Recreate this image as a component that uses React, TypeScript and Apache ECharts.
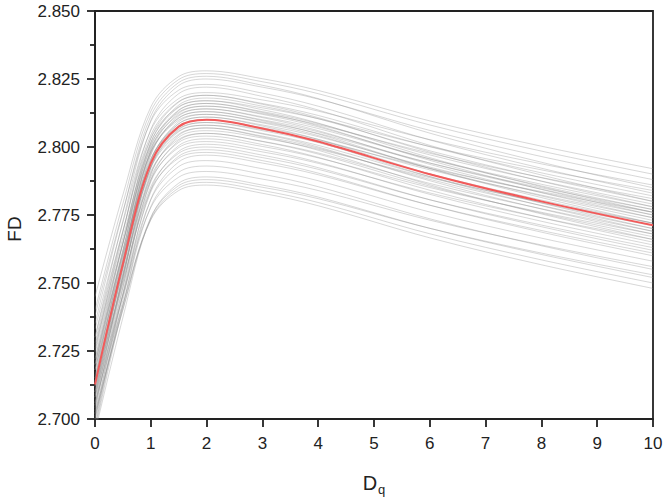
import React, { useEffect, useRef } from "react";
import * as echarts from "echarts";

const XS = [0, 0.5, 1, 1.5, 2, 3, 4, 6, 8, 10];

const MEAN = [2.7127, 2.757, 2.794, 2.8075, 2.81, 2.8068, 2.802, 2.79, 2.78, 2.7712];

const SAMPLES: number[][] = [
  [2.745, 2.7824, 2.8147, 2.8259, 2.828, 2.8251, 2.8208, 2.8096, 2.8003, 2.792],
  [2.74, 2.7792, 2.8131, 2.8248, 2.827, 2.824, 2.8196, 2.8081, 2.7985, 2.79],
  [2.735, 2.776, 2.8114, 2.8237, 2.826, 2.8227, 2.8178, 2.8051, 2.7944, 2.785],
  [2.73, 2.7728, 2.8098, 2.8226, 2.825, 2.822, 2.8176, 2.8061, 2.7965, 2.788],
  [2.738, 2.7763, 2.8094, 2.8209, 2.823, 2.8198, 2.815, 2.8026, 2.7922, 2.783],
  [2.725, 2.7687, 2.8065, 2.8196, 2.822, 2.8186, 2.8136, 2.8006, 2.7897, 2.78],
  [2.733, 2.7722, 2.8061, 2.8178, 2.82, 2.8173, 2.8132, 2.8027, 2.7938, 2.786],
  [2.72, 2.7646, 2.8032, 2.8165, 2.819, 2.816, 2.8116, 2.8001, 2.7905, 2.782],
  [2.728, 2.769, 2.8044, 2.8167, 2.819, 2.8157, 2.8108, 2.7981, 2.7874, 2.778],
  [2.715, 2.7614, 2.8015, 2.8154, 2.818, 2.815, 2.8104, 2.7986, 2.7887, 2.78],
  [2.73, 2.7692, 2.8031, 2.8148, 2.817, 2.8137, 2.8088, 2.7961, 2.7854, 2.776],
  [2.722, 2.7648, 2.8018, 2.8146, 2.817, 2.8144, 2.8104, 2.8002, 2.7916, 2.784],
  [2.718, 2.7621, 2.8003, 2.8136, 2.816, 2.813, 2.8086, 2.7971, 2.7875, 2.779],
  [2.71, 2.7577, 2.799, 2.8134, 2.816, 2.8127, 2.8078, 2.7951, 2.7844, 2.775],
  [2.727, 2.7666, 2.8009, 2.8128, 2.815, 2.812, 2.8074, 2.7956, 2.7857, 2.777],
  [2.712, 2.7584, 2.7985, 2.8124, 2.815, 2.8123, 2.8082, 2.7977, 2.7888, 2.781],
  [2.724, 2.7645, 2.7996, 2.8118, 2.814, 2.8108, 2.806, 2.7936, 2.7832, 2.774],
  [2.708, 2.7557, 2.797, 2.8114, 2.814, 2.8111, 2.8068, 2.7956, 2.7863, 2.778],
  [2.72, 2.7619, 2.7981, 2.8107, 2.813, 2.81, 2.8056, 2.7941, 2.7845, 2.776],
  [2.716, 2.7597, 2.7975, 2.8106, 2.813, 2.8097, 2.8048, 2.7921, 2.7814, 2.772],
  [2.705, 2.7532, 2.7949, 2.8093, 2.812, 2.8092, 2.805, 2.7941, 2.785, 2.777],
  [2.726, 2.7647, 2.7982, 2.8099, 2.812, 2.8089, 2.8042, 2.7921, 2.782, 2.773],
  [2.714, 2.7577, 2.7955, 2.8086, 2.811, 2.8081, 2.8038, 2.7926, 2.7833, 2.775],
  [2.71, 2.7555, 2.7948, 2.8085, 2.811, 2.8077, 2.8028, 2.7901, 2.7794, 2.77],
  [2.72, 2.7605, 2.7956, 2.8078, 2.81, 2.8071, 2.8028, 2.7916, 2.7823, 2.774],
  [2.703, 2.7512, 2.7929, 2.8073, 2.81, 2.8067, 2.8018, 2.7891, 2.7784, 2.769],
  [2.718, 2.759, 2.7944, 2.8067, 2.809, 2.806, 2.8016, 2.7901, 2.7805, 2.772],
  [2.706, 2.7524, 2.7925, 2.8064, 2.809, 2.8064, 2.8024, 2.7922, 2.7836, 2.776],
  [2.712, 2.7552, 2.7926, 2.8056, 2.808, 2.8048, 2.8, 2.7876, 2.7772, 2.768],
  [2.722, 2.7607, 2.7942, 2.8059, 2.808, 2.805, 2.8006, 2.7891, 2.7795, 2.771],
  [2.7, 2.7482, 2.7899, 2.8043, 2.807, 2.804, 2.7996, 2.7881, 2.7785, 2.77],
  [2.715, 2.7564, 2.7923, 2.8047, 2.807, 2.8037, 2.7988, 2.7861, 2.7754, 2.766],
  [2.708, 2.7521, 2.7903, 2.8036, 2.806, 2.8033, 2.7992, 2.7887, 2.7798, 2.772],
  [2.718, 2.7572, 2.7911, 2.8028, 2.805, 2.802, 2.7974, 2.7856, 2.7757, 2.767],
  [2.698, 2.7462, 2.7879, 2.8023, 2.805, 2.8021, 2.7978, 2.7866, 2.7773, 2.769],
  [2.71, 2.7523, 2.789, 2.8017, 2.804, 2.8009, 2.7962, 2.7841, 2.774, 2.765],
  [2.704, 2.7486, 2.7872, 2.8005, 2.803, 2.8002, 2.796, 2.7851, 2.776, 2.768],
  [2.714, 2.7536, 2.7879, 2.7998, 2.802, 2.799, 2.7944, 2.7826, 2.7727, 2.764],
  [2.697, 2.7438, 2.7844, 2.7984, 2.801, 2.7982, 2.794, 2.7831, 2.774, 2.766],
  [2.709, 2.75, 2.7854, 2.7977, 2.8, 2.797, 2.7924, 2.7806, 2.7707, 2.762],
  [2.702, 2.7457, 2.7835, 2.7966, 2.799, 2.7961, 2.7918, 2.7806, 2.7713, 2.763],
  [2.712, 2.7507, 2.7842, 2.7959, 2.798, 2.795, 2.7904, 2.7786, 2.7687, 2.76],
  [2.696, 2.7415, 2.7808, 2.7945, 2.797, 2.7941, 2.7898, 2.7786, 2.7693, 2.761],
  [2.705, 2.7455, 2.7806, 2.7928, 2.795, 2.792, 2.7876, 2.7761, 2.7665, 2.758],
  [2.7, 2.7419, 2.7781, 2.7907, 2.793, 2.79, 2.7854, 2.7736, 2.7637, 2.755],
  [2.708, 2.7454, 2.7777, 2.7889, 2.791, 2.7882, 2.784, 2.7731, 2.764, 2.756],
  [2.695, 2.7373, 2.774, 2.7867, 2.789, 2.786, 2.7816, 2.7701, 2.7605, 2.752],
  [2.702, 2.7403, 2.7734, 2.7849, 2.787, 2.784, 2.7796, 2.7681, 2.7585, 2.75],
  [2.706, 2.742, 2.7732, 2.784, 2.786, 2.783, 2.7784, 2.7666, 2.7567, 2.748],
  [2.701, 2.7402, 2.7741, 2.7858, 2.788, 2.7852, 2.781, 2.7701, 2.761, 2.753],
];

const X_TICKS = [0, 10, 1];
const Y_TICKS = [2.7, 2.85, 0.025];

const FONT = "'Liberation Sans', Arial, sans-serif";

export default function App() {
  const ref = useRef<HTMLDivElement>(null);
  useEffect(() => {
    if (!ref.current) return;
    const chart = echarts.init(ref.current, undefined, { renderer: "svg" });
    const greySeries = SAMPLES.map((vals, i) => ({
      type: "line",
      name: "sample" + i,
      data: XS.map((x, j) => [x, vals[j]]),
      smooth: 0.35,
      showSymbol: false,
      symbol: "none",
      silent: true,
      lineStyle: { color: "rgba(140,140,140,0.35)", width: 1 },
      z: 2,
    }));
    chart.setOption({
      animation: false,
      grid: {
        left: 95,
        right: 13,
        top: 11,
        bottom: 78,
        show: true,
        borderColor: "#222",
        borderWidth: 1.8,
        backgroundColor: "transparent",
      },
      graphic: [
        {
          type: "text",
          x: 14,
          y: 229,
          rotation: Math.PI / 2,
          style: {
            text: "FD",
            font: "19px 'Liberation Sans', Arial, sans-serif",
            fill: "#222",
            align: "center",
            verticalAlign: "middle",
          },
        },
      ],
      xAxis: {
        type: "value",
        min: X_TICKS[0],
        max: X_TICKS[1],
        interval: X_TICKS[2],
        name: "{a|D}{b|q}",
        nameLocation: "middle",
        nameGap: 50,
        nameTextStyle: {
          rich: {
            a: { fontSize: 20, fontFamily: FONT, color: "#222" },
            b: { fontSize: 13, fontFamily: FONT, color: "#222", padding: [14, 0, 0, 1] },
          },
        },
        axisLine: { show: true, lineStyle: { color: "#222", width: 1.8 } },
        axisTick: { show: true, inside: false, length: 8, lineStyle: { color: "#222", width: 1.8 } },
        axisLabel: { fontSize: 17, color: "#222", fontFamily: FONT, margin: 16 },
        splitLine: { show: false },
      },
      yAxis: {
        type: "value",
        min: Y_TICKS[0],
        max: Y_TICKS[1],
        interval: Y_TICKS[2],
        axisLine: { show: true, lineStyle: { color: "#222", width: 1.8 } },
        axisTick: { show: true, inside: false, length: 8, lineStyle: { color: "#222", width: 1.8 } },
        minorTick: { show: true, splitNumber: 2, length: 5, lineStyle: { color: "#222", width: 1.8 } },
        axisLabel: {
          fontSize: 17,
          color: "#222",
          fontFamily: FONT,
          margin: 15,
          formatter: (v: number) => v.toFixed(3),
        },
        splitLine: { show: false },
      },
      series: [
        ...greySeries,
        {
          type: "line",
          name: "mean",
          data: XS.map((x, j) => [x, MEAN[j]]),
          smooth: 0.35,
          showSymbol: false,
          symbol: "none",
          lineStyle: { color: "#f25a5a", width: 2 },
          z: 5,
        },
      ],
    });
    return () => chart.dispose();
  }, []);
  return <div ref={ref} style={{ width: 666, height: 501, position: "absolute", left: 0, top: 0 }} />;
}
